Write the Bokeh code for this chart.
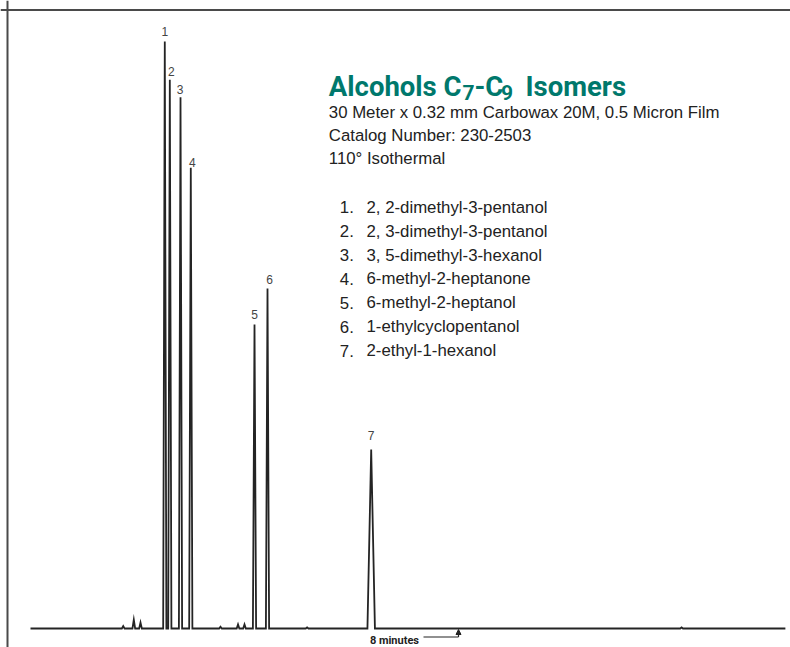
from bokeh.plotting import figure
from bokeh.models import Range1d, Span, Arrow, NormalHead, ColumnDataSource, Label
from bokeh.core.properties import value
from bokeh.embed import file_html
from bokeh.resources import INLINE

# ---------------- data ----------------
peak_ids = ["1", "2", "3", "4", "5", "6", "7"]
peak_rt = [2.510, 2.604, 2.804, 2.996, 4.187, 4.430, 6.368]          # minutes
peak_height = [100.0, 93.5, 90.5, 78.5, 51.8, 57.9, 30.5]           # relative response
peak_base_width = [0.060, 0.060, 0.060, 0.060, 0.060, 0.060, 0.140]  # minutes

minor_rt = [1.733, 1.931, 2.056, 3.551, 3.879, 4.000, 5.170, 12.170]
minor_height = [0.4, 1.5, 1.0, 0.3, 0.7, 0.7, 0.2, 0.2]
minor_base_width = [0.05, 0.05, 0.05, 0.05, 0.05, 0.05, 0.05, 0.05]

run_start = 0.0
run_end = 14.11
marker_time = 8.0  # "8 minutes" arrow

compound_names = [
    "2, 2-dimethyl-3-pentanol",
    "2, 3-dimethyl-3-pentanol",
    "3, 5-dimethyl-3-hexanol",
    "6-methyl-2-heptanone",
    "6-methyl-2-heptanol",
    "1-ethylcyclopentanol",
    "2-ethyl-1-hexanol",
]
info_lines = [
    "30 Meter x 0.32 mm Carbowax 20M, 0.5 Micron Film",
    "Catalog Number: 230-2503",
    "110\u00b0 Isothermal",
]

# ---------------- layout helpers (pixel -> data) ----------------
W, H = 790, 647
X0_PX, PX_PER_MIN = 30.0, 53.5      # pixel of t=0, pixels per minute
BASE_PX, PX_PER_UNIT = 628.0, 5.87  # pixel of baseline, pixels per response unit


def tx(px):
    return (px - X0_PX) / PX_PER_MIN


def ty(py):
    return (BASE_PX - py) / PX_PER_UNIT


TITLE_FONT = "Roboto"
REG = "Liberation Sans"
TEAL = "#00786c"
INK = "#242424"

p = figure(width=W, height=H,
           x_range=Range1d(tx(0), tx(W)), y_range=Range1d(ty(H), ty(0)),
           output_backend="svg", toolbar_location=None,
           x_axis_location=None, y_axis_location=None,
           min_border=0, min_border_left=0, min_border_right=0,
           min_border_top=0, min_border_bottom=0)
p.grid.visible = False
p.outline_line_color = None
p.background_fill_color = "white"
p.border_fill_color = "white"

# frame lines (top and left)
p.add_layout(Span(location=ty(9.5), dimension="width", line_color="#4a4a4a", line_width=2))
p.add_layout(Span(location=tx(7), dimension="height", line_color="#4a4a4a", line_width=2))

# ---------------- trace ----------------
events = sorted(list(zip(peak_rt, peak_height, peak_base_width)) +
                list(zip(minor_rt, minor_height, minor_base_width)))
xs, ys = [run_start], [0.0]
for rt, h, w in events:
    xs += [rt - w / 2, rt, rt + w / 2]
    ys += [0.0, h, 0.0]
xs.append(run_end)
ys.append(0.0)
p.line(xs, ys, line_color=INK, line_width=1.8, line_join="miter")

# ---------------- peak labels ----------------
label_dx = [0, 1.5, -0.5, 1.5, 0, 2, 0]
label_dy = [-10, -8.5, -8, -5, -10, -9, -14]
lab_src = ColumnDataSource(dict(x=peak_rt, y=peak_height, t=peak_ids, dx=label_dx, dy=label_dy))
p.text(x="x", y="y", text="t", x_offset="dx", y_offset="dy", source=lab_src,
       text_font=value(REG), text_font_size="12px", text_color="#444444",
       text_align="center", text_baseline="alphabetic")

# ---------------- title ----------------
title_pieces = [("Alcohols C", 328.3, 85.7, "27.5px"), ("7", 462.0, 92.0, "21px"),
                ("-C", 474.0, 85.7, "27.5px"), ("9", 500.5, 92.0, "21px"),
                ("Isomers", 525.0, 85.7, "27.5px")]
for txt, px, py, fs in title_pieces:
    p.add_layout(Label(x=tx(px), y=ty(py), text=txt, text_font=TITLE_FONT, text_font_style="bold",
                       text_font_size=fs, text_color=TEAL, text_baseline="alphabetic",
                       text_align="left"))

for i, line in enumerate(info_lines):
    p.add_layout(Label(x=tx(328.3), y=ty(111.8 + 23.3 * i), text=line, text_font=REG,
                       text_font_size="16.8px", text_color="#222222",
                       text_baseline="alphabetic", text_align="left"))

for i, name in enumerate(compound_names):
    yb = 206.7 + 23.9 * i
    p.add_layout(Label(x=tx(339.3), y=ty(yb), text=f"{i + 1}.", text_font=REG,
                       text_font_size="16.8px", text_color="#222222",
                       text_baseline="alphabetic", text_align="left"))
    p.add_layout(Label(x=tx(366.0), y=ty(yb), text=name, text_font=REG,
                       text_font_size="16.8px", text_color="#222222",
                       text_baseline="alphabetic", text_align="left"))

# ---------------- "8 minutes" marker ----------------
ann_y = 636.5
p.add_layout(Label(x=tx(418.5), y=ty(640.0), text="8 minutes", text_font=TITLE_FONT,
                   text_font_style="bold", text_font_size="11px", text_color="#222222",
                   text_baseline="alphabetic", text_align="right"))
p.add_layout(Arrow(end=None, x_start=tx(423), y_start=ty(ann_y),
                   x_end=marker_time, y_end=ty(ann_y), line_color="#222222", line_width=1.2))
p.add_layout(Arrow(end=NormalHead(size=5, fill_color="#222222", line_color="#222222", line_width=1),
                   x_start=marker_time, y_start=ty(ann_y), x_end=marker_time, y_end=ty(629),
                   line_color="#222222", line_width=1.2))

open("out.html", "w").write(file_html(p, INLINE))
